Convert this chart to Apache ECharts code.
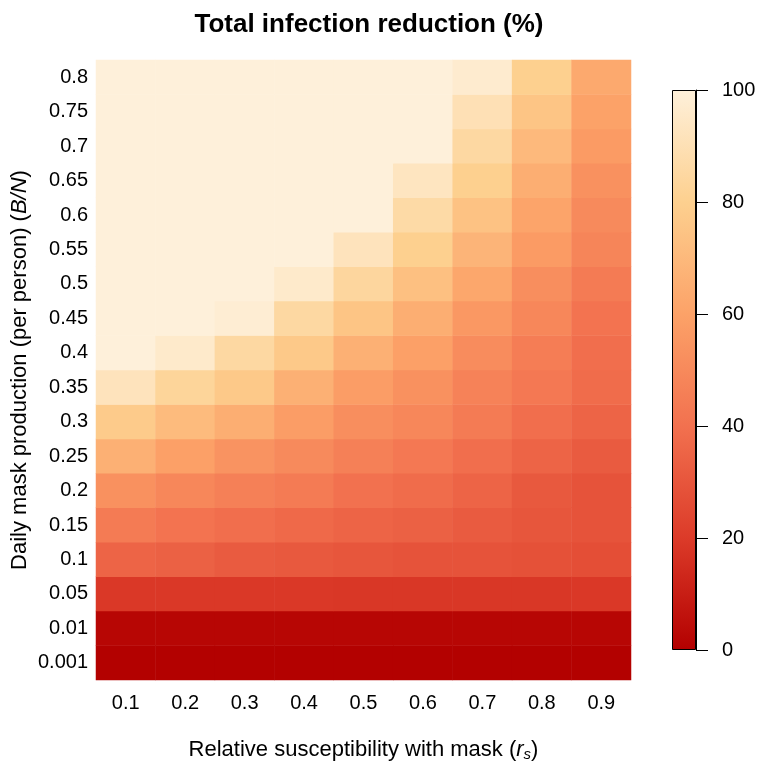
<!DOCTYPE html>
<html>
<head>
<meta charset="utf-8">
<script src="https://cdn.jsdelivr.net/npm/echarts@6/dist/echarts.min.js"></script>
<style>html,body{margin:0;padding:0;background:#fff}#c{width:762px;height:773px}</style>
</head>
<body>
<div id="c"></div>
<script>
// x: relative susceptibility with mask
var xCategories = ['0.1','0.2','0.3','0.4','0.5','0.6','0.7','0.8','0.9'];
// y: daily mask production, bottom to top
var yCategories = ['0.001','0.01','0.05','0.1','0.15','0.2','0.25','0.3','0.35','0.4','0.45','0.5','0.55','0.6','0.65','0.7','0.75','0.8'];
// total infection reduction (%), one row per y category (bottom to top)
var row_0_001 = [0.2,0.2,0.2,0.2,0.2,0.2,0.2,0.2,0.2];
var row_0_01  = [2,2,2,2,2,2,2,2,2];
var row_0_05  = [19,19,19,19,18.5,18.5,18.5,18.5,19];
var row_0_1   = [35,34,32,31,30,29,29,28,27];
var row_0_15  = [44,41,39,37,35,34,32,30,29];
var row_0_2   = [53,49,46,44,40,38,35,31,29];
var row_0_25  = [66,59,54,50,46,43,39,35,32];
var row_0_3   = [78,71,65,58,52,49,44,39,35];
var row_0_35  = [92,83,77,66,58,53,47,43,38];
var row_0_4   = [100,96,85,77,66,59,51,45,39];
var row_0_45  = [100,100,98,85,75,65,56,49,41];
var row_0_5   = [100,100,100,96,84,73,62,52,44];
var row_0_55  = [100,100,100,100,92,80,68,57,48];
var row_0_6   = [100,100,100,100,100,86,74,61,50];
var row_0_65  = [100,100,100,100,100,93,80,65,53];
var row_0_7   = [100,100,100,100,100,100,85,70,57];
var row_0_75  = [100,100,100,100,100,100,90,75,60];
var row_0_8   = [100,100,100,100,100,100,97,80,63];
var rows = [row_0_001,row_0_01,row_0_05,row_0_1,row_0_15,row_0_2,row_0_25,row_0_3,row_0_35,row_0_4,row_0_45,row_0_5,row_0_55,row_0_6,row_0_65,row_0_7,row_0_75,row_0_8];
var colorbarTicks = [0,20,40,60,80,100];

var palette = ['#B30000','#DC3B29','#F2714F','#FCA268','#FDD08F','#FEF0DA'];

var data = [];
rows.forEach(function(r, yi){ r.forEach(function(v, xi){ data.push([xi, yi, v]); }); });

var FONT = '"Liberation Sans", Arial, Helvetica, sans-serif';
var chart = echarts.init(document.getElementById('c'));
var gradStops = palette.map(function(c,i){ return {offset: 1 - i/(palette.length-1), color: c}; }).reverse();

chart.setOption({
  animation: false,
  backgroundColor: '#fff',
  textStyle: {fontFamily: FONT},
  title: {
    text: 'Total infection reduction (%)',
    left: 364, top: 7, textAlign: 'center',
    textStyle: {fontFamily: FONT, fontSize: 26, fontWeight: 'bold', color: '#000'}
  },
  grid: [
    {left: 96, right: 131, top: 60, bottom: 93, containLabel: false, outerBoundsMode: 'none'},
    {left: 672, width: 24, top: 90, height: 560, containLabel: false, outerBoundsMode: 'none'}
  ],
  xAxis: [
    {
      type: 'category', data: xCategories, gridIndex: 0,
      axisLine: {show: false}, axisTick: {show: false}, splitLine: {show: false},
      axisLabel: {fontFamily: FONT, fontSize: 20, color: '#000', margin: 13},
      name: '{n|Relative susceptibility with mask (}{i|r}{s|s}{n|)}',
      nameLocation: 'middle', nameGap: 58,
      nameTextStyle: {
        rich: {
          n: {fontFamily: FONT, fontSize: 22, color: '#000'},
          i: {fontFamily: FONT, fontSize: 22, color: '#000', fontStyle: 'italic'},
          s: {fontFamily: FONT, fontSize: 15, color: '#000', fontStyle: 'italic', verticalAlign: 'bottom', padding: [9,0,0,0]}
        }
      }
    },
    {
      type: 'category', data: [''], gridIndex: 1, show: false
    }
  ],
  yAxis: [
    {
      type: 'category', data: yCategories, gridIndex: 0,
      axisLine: {show: false}, axisTick: {show: false}, splitLine: {show: false},
      axisLabel: {fontFamily: FONT, fontSize: 20, color: '#000', margin: 8},
      name: '{n|Daily mask production (per person) (}{i|B/N}{n|)}',
      nameLocation: 'middle', nameGap: 65, nameRotate: 90, nameMoveOverlap: false,
      nameTextStyle: {
        rich: {
          n: {fontFamily: FONT, fontSize: 22, color: '#000'},
          i: {fontFamily: FONT, fontSize: 22, color: '#000', fontStyle: 'italic'}
        }
      }
    },
    {
      type: 'value', gridIndex: 1, min: 0, max: 100, interval: 20, position: 'right',
      axisLine: {show: true, lineStyle: {color: '#000', width: 1}},
      axisTick: {show: true, length: 12, lineStyle: {color: '#000', width: 1}},
      splitLine: {show: false},
      axisLabel: {fontFamily: FONT, fontSize: 20, color: '#000', margin: 26,
        formatter: function(v){ return colorbarTicks.indexOf(v) >= 0 ? String(v) : ''; }}
    }
  ],
  visualMap: {
    show: false, min: 0, max: 100, seriesIndex: 0, dimension: 2,
    inRange: {color: palette}
  },
  series: [
    {
      type: 'heatmap', xAxisIndex: 0, yAxisIndex: 0, data: data,
      itemStyle: {borderWidth: 0}
    },
    {
      type: 'bar', xAxisIndex: 1, yAxisIndex: 1, data: [100], barWidth: '100%',
      itemStyle: {
        color: new echarts.graphic.LinearGradient(0, 0, 0, 1, gradStops),
        borderColor: '#000', borderWidth: 1
      },
      silent: true
    }
  ]
});
</script>
</body>
</html>
